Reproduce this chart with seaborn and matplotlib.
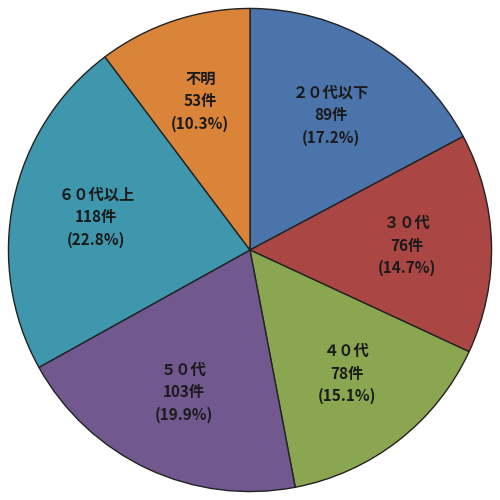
import matplotlib.pyplot as plt
import seaborn as sns

sns.set_theme(style="white")
plt.rcParams['font.family'] = ['Noto Sans CJK JP', 'DejaVu Sans']

categories = ['２０代以下', '３０代', '４０代', '５０代', '６０代以上', '不明']
counts = [89, 76, 78, 103, 118, 53]
percents = ['17.2%', '14.7%', '15.1%', '19.9%', '22.8%', '10.3%']
colors = ['#4A74AA', '#AA4643', '#8AA651', '#71598F', '#3E97AD', '#DA8439']

labels = [f'{c}\n{n}件\n({p})' for c, n, p in zip(categories, counts, percents)]

fig = plt.figure(figsize=(5, 5), dpi=100)
ax = fig.add_axes([0, 0, 1, 1])
wedges, texts = ax.pie(counts, colors=colors, startangle=90, counterclock=False,
                       labels=labels, labeldistance=0.65,
                       wedgeprops=dict(edgecolor='#222222', linewidth=1),
                       textprops=dict(fontsize=11, fontweight='bold', color='#1a1a1a',
                                      ha='center', va='center', linespacing=1.5))
ax.set_aspect('equal')
ax.set_xlim(-1.035, 1.035)
ax.set_ylim(-1.035, 1.035)
ax.axis('off')
plt.savefig('out.png', dpi=100)
